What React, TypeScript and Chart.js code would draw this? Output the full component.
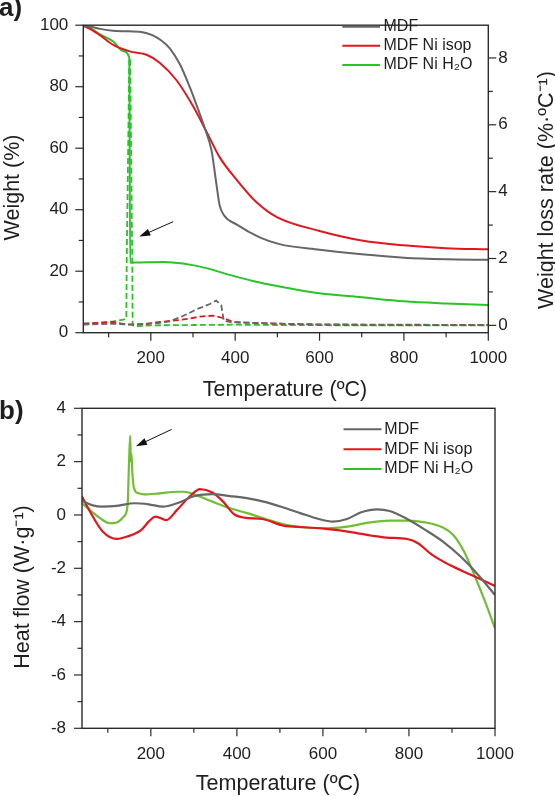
import React, { useEffect, useRef } from "react";
import { Chart, registerables } from "chart.js";

Chart.register(...registerables);

const FONT = "'Liberation Sans', Arial, Helvetica, sans-serif";
const AXIS = "#2a2a2a";
const TEXT = "#1e1e1e";

// ---------- Panel a) TGA ----------
const xMajor = [200, 400, 600, 800, 1000];
const xMinor = [100, 300, 500, 700, 900];
const weightMajor = [0, 20, 40, 60, 80, 100];
const weightMinor = [10, 30, 50, 70, 90];
const rateMajor = [0, 2, 4, 6, 8];
const rateMinor = [1, 3, 5, 7];

const seriesNames = ["MDF", "MDF Ni isop", "MDF Ni H₂O"];

const mdfWT = [40, 60, 80, 111, 150, 174, 205, 225, 245, 269, 292, 312, 328, 344, 355, 363, 373, 403, 458, 505, 600, 700, 800, 900, 1000];
const mdfW = [99.8, 99.4, 98.8, 98.2, 98.0, 97.9, 96.7, 95.0, 92.5, 87.3, 80.0, 72.7, 66.5, 59.2, 48.8, 41.5, 38.3, 35.2, 31.0, 28.8, 27.0, 25.5, 24.4, 23.9, 23.7];

const isopWT = [40, 60, 80, 111, 150, 190, 221, 261, 300, 332, 363, 403, 450, 500, 600, 700, 800, 900, 1000];
const isopW = [99.8, 98.5, 96.7, 93.6, 91.5, 90.4, 87.8, 82.1, 73.7, 65.4, 57.1, 49.8, 42.5, 37.5, 33.1, 30.0, 28.4, 27.5, 27.1];

const h2oWT = [40, 60, 80, 111, 135, 149, 151, 158, 190, 229, 276, 332, 387, 442, 505, 600, 700, 800, 900, 1000];
const h2oW = [99.8, 98.8, 97.0, 94.7, 91.5, 89.4, 22.8, 22.8, 22.9, 23.0, 22.5, 21.0, 18.8, 16.8, 15.0, 12.8, 11.5, 10.2, 9.5, 9.0];

const mdfRT = [40, 80, 111, 150, 180, 218, 245, 269, 290, 308, 325, 340, 355, 367, 373, 390, 420, 500, 600, 800, 1000];
const mdfR = [0.02, 0.04, 0.05, 0.02, 0.04, 0.07, 0.12, 0.24, 0.36, 0.48, 0.56, 0.64, 0.74, 0.6, 0.14, 0.1, 0.08, 0.05, 0.03, 0.02, 0.01];

const isopRT = [40, 80, 111, 135, 160, 190, 221, 245, 269, 290, 316, 347, 371, 395, 450, 500, 600, 800, 1000];
const isopR = [0.05, 0.08, 0.1, 0.04, 0.02, 0.04, 0.1, 0.13, 0.16, 0.2, 0.26, 0.29, 0.22, 0.1, 0.07, 0.05, 0.02, 0.01, 0.01];

const h2oRT = [40, 80, 111, 135, 142, 143, 149, 151, 156, 157, 165, 200, 300, 400, 500, 700, 1000];
const h2oR = [0.05, 0.08, 0.12, 0.17, 0.2, 2.0, 7.9, 8.0, 2.0, 0.0, -0.03, 0.0, 0.01, 0.02, 0.01, 0.0, 0.0];

const arrowA = { fromT: 253, fromV: 36.1, toT: 172.7, toV: 31.25 };

// ---------- Panel b) DSC ----------
const heatMajor = [-8, -6, -4, -2, 0, 2, 4];
const heatMinor = [-7, -5, -3, -1, 1, 3];

const mdfHT = [40, 63, 88, 121, 162, 195, 228, 261, 302, 343, 384, 426, 467, 508, 549, 590, 623, 656, 689, 726, 755, 796, 838, 879, 920, 961, 1000];
const mdfH = [0.53, 0.37, 0.31, 0.34, 0.44, 0.40, 0.31, 0.44, 0.71, 0.78, 0.71, 0.62, 0.48, 0.28, 0.06, -0.15, -0.25, -0.15, 0.10, 0.21, 0.15, -0.15, -0.56, -1.0, -1.56, -2.25, -3.0];

const isopHT = [40, 63, 88, 121, 145, 178, 195, 211, 236, 261, 294, 314, 343, 368, 393, 417, 459, 508, 557, 607, 673, 714, 747, 796, 821, 854, 895, 945, 1000];
const isopH = [0.69, 0.0, -0.62, -0.9, -0.81, -0.56, -0.25, -0.06, -0.19, 0.19, 0.75, 0.97, 0.84, 0.5, 0.03, -0.1, -0.15, -0.4, -0.46, -0.52, -0.66, -0.78, -0.85, -0.9, -1.06, -1.5, -1.88, -2.25, -2.66];

const h2oHT = [40, 63, 88, 104, 121, 137, 146, 149, 152, 153.5, 155, 157, 161, 170, 185, 220, 261, 277, 310, 343, 384, 426, 467, 508, 557, 607, 656, 706, 755, 796, 838, 879, 903, 928, 952, 977, 1000];
const h2oH = [0.44, 0.12, -0.19, -0.31, -0.28, -0.06, 0.37, 1.8, 2.98, 2.0, 2.3, 1.6, 1.0, 0.82, 0.77, 0.81, 0.87, 0.87, 0.71, 0.5, 0.25, 0.06, -0.15, -0.35, -0.47, -0.5, -0.44, -0.29, -0.21, -0.21, -0.28, -0.47, -0.75, -1.37, -2.25, -3.25, -4.25];

const arrowB = { fromT: 248.5, fromV: 3.21, toT: 165.5, toV: 2.58 };

// colours
const GRAY = "#666666";
const RED = "#e3161d";
const GREEN = "#28c428";
const GREEN_B = "#70be34";

const pts = (xs: number[], ys: number[]) => xs.map((x, i) => ({ x, y: ys[i] }));

type Txt = { text: string; x: number; y: number; rot?: boolean; font: string; align?: CanvasTextAlign };
type DecorCfg = {
  yMajor: number[];
  yMinor: number[];
  y2Major?: number[];
  y2Minor?: number[];
  legendColors: string[];
  legendX: [number, number, number];
  legendY: number[];
  arrow: { fromT: number; fromV: number; toT: number; toV: number };
  texts: Txt[];
};

function makeDecor(cfg: DecorCfg) {
  return {
    id: "decor",
    afterDraw(chart: any) {
      const ctx: CanvasRenderingContext2D = chart.ctx;
      const { left, right, top, bottom } = chart.chartArea;
      const xs = chart.scales.x;
      const ys = chart.scales.y;
      const y2 = chart.scales.y2;
      ctx.save();
      ctx.strokeStyle = AXIS;
      ctx.lineWidth = 1.4;
      ctx.strokeRect(left, top, right - left, bottom - top);
      ctx.lineWidth = 1.2;
      const line = (x1: number, y1: number, x2: number, y2p: number) => {
        ctx.beginPath();
        ctx.moveTo(x1, y1);
        ctx.lineTo(x2, y2p);
        ctx.stroke();
      };
      xMajor.forEach((v) => { const p = xs.getPixelForValue(v); line(p, bottom, p, bottom + 8); });
      xMinor.forEach((v) => { const p = xs.getPixelForValue(v); line(p, bottom, p, bottom + 4.5); });
      cfg.yMajor.forEach((v) => { const p = ys.getPixelForValue(v); line(left, p, left - 8, p); });
      cfg.yMinor.forEach((v) => { const p = ys.getPixelForValue(v); line(left, p, left - 4.5, p); });
      if (y2 && cfg.y2Major) {
        cfg.y2Major.forEach((v) => { const p = y2.getPixelForValue(v); line(right, p, right + 8, p); });
        (cfg.y2Minor || []).forEach((v) => { const p = y2.getPixelForValue(v); line(right, p, right + 4.5, p); });
      }
      // arrow
      const a = cfg.arrow;
      const fx = xs.getPixelForValue(a.fromT), fy = ys.getPixelForValue(a.fromV);
      const tx = xs.getPixelForValue(a.toT), ty = ys.getPixelForValue(a.toV);
      const ang = Math.atan2(ty - fy, tx - fx);
      ctx.strokeStyle = "#111";
      ctx.fillStyle = "#111";
      ctx.lineWidth = 1;
      line(fx, fy, tx - Math.cos(ang) * 6, ty - Math.sin(ang) * 6);
      ctx.beginPath();
      ctx.moveTo(tx, ty);
      ctx.lineTo(tx - Math.cos(ang) * 11 + Math.sin(ang) * 3.5, ty - Math.sin(ang) * 11 - Math.cos(ang) * 3.5);
      ctx.lineTo(tx - Math.cos(ang) * 11 - Math.sin(ang) * 3.5, ty - Math.sin(ang) * 11 + Math.cos(ang) * 3.5);
      ctx.closePath();
      ctx.fill();
      // legend
      ctx.font = `16px ${FONT}`;
      ctx.textBaseline = "middle";
      ctx.textAlign = "left";
      seriesNames.forEach((name, i) => {
        const yy = cfg.legendY[i];
        ctx.strokeStyle = cfg.legendColors[i];
        ctx.lineWidth = 2;
        line(cfg.legendX[0], yy, cfg.legendX[1], yy);
        ctx.fillStyle = TEXT;
        ctx.fillText(name, cfg.legendX[2], yy);
      });
      // titles and panel labels
      ctx.fillStyle = TEXT;
      cfg.texts.forEach((t) => {
        ctx.save();
        ctx.font = t.font;
        ctx.textAlign = t.align || "center";
        ctx.textBaseline = "alphabetic";
        ctx.translate(t.x, t.y);
        if (t.rot) ctx.rotate(-Math.PI / 2);
        ctx.fillText(t.text, 0, 0);
        ctx.restore();
      });
      ctx.restore();
    },
  };
}

const setTicks = (vals: number[]) => (s: any) => {
  s.ticks = vals.map((v) => ({ value: v }));
};

const TITLE_FONT = `21.5px ${FONT}`;
const PANEL_FONT = `bold 26px ${FONT}`;
const X_AXIS_H = 50;

const axisBase = () => ({
  grid: { display: false, drawTicks: false },
  border: { display: false },
});
const tickOpts = (padding: number) => ({
  font: { family: FONT, size: 17 },
  color: TEXT,
  padding,
  autoSkip: false,
  maxRotation: 0,
  minRotation: 0,
  callback: (v: any) => String(v),
});

function buildTop(canvas: HTMLCanvasElement) {
  const solid = (label: string, xs: number[], ysv: number[], color: string) => ({
    label, data: pts(xs, ysv), borderColor: color, backgroundColor: color, borderWidth: 2,
    pointRadius: 0, cubicInterpolationMode: "monotone" as const, yAxisID: "y",
  });
  const dashed = (label: string, xs: number[], ysv: number[], color: string) => ({
    label, data: pts(xs, ysv), borderColor: color, backgroundColor: color, borderWidth: 1.8,
    borderDash: [6, 3], pointRadius: 0, tension: 0, yAxisID: "y2",
  });
  return new Chart(canvas, {
    type: "line",
    data: {
      datasets: [
        solid("MDF", mdfWT, mdfW, GRAY),
        solid("MDF Ni isop", isopWT, isopW, RED),
        solid("MDF Ni H₂O", h2oWT, h2oW, GREEN),
        dashed("MDF rate", mdfRT, mdfR, GRAY),
        dashed("MDF Ni isop rate", isopRT, isopR, RED),
        dashed("MDF Ni H₂O rate", h2oRT, h2oR, GREEN),
      ],
    },
    options: {
      responsive: false,
      animation: false,
      events: [],
      layout: { padding: { top: 12.7, bottom: 796 - 332.7 - X_AXIS_H, left: 0, right: 0 } },
      plugins: { legend: { display: false }, tooltip: { enabled: false } },
      scales: {
        x: {
          type: "linear", position: "bottom", min: 40, max: 1000, ...axisBase(),
          ticks: tickOpts(15),
          afterBuildTicks: setTicks(xMajor),
          afterFit: (s: any) => { s.height = X_AXIS_H; },
        },
        y: {
          type: "linear", position: "left", min: 0, max: 100, ...axisBase(),
          ticks: tickOpts(15),
          afterBuildTicks: setTicks(weightMajor),
          afterFit: (s: any) => { s.width = 83.3; },
        },
        y2: {
          type: "linear", position: "right", min: -0.22, max: 8.98, ...axisBase(),
          ticks: tickOpts(10),
          afterBuildTicks: setTicks(rateMajor),
          afterFit: (s: any) => { s.width = 555 - 488.3; },
        },
      },
    } as any,
    plugins: [
      makeDecor({
        yMajor: weightMajor, yMinor: weightMinor, y2Major: rateMajor, y2Minor: rateMinor,
        legendColors: [GRAY, RED, GREEN],
        legendX: [342.3, 380, 383.5],
        legendY: [26.7, 45.7, 65],
        arrow: arrowA,
        texts: [
          { text: "a)", x: -1, y: 16, font: PANEL_FONT, align: "left" },
          { text: "Weight (%)", x: 19, y: 187.5, rot: true, font: TITLE_FONT },
          { text: "Weight loss rate (%·ºC⁻¹)", x: 553, y: 190, rot: true, font: TITLE_FONT },
          { text: "Temperature (ºC)", x: 285, y: 396, font: TITLE_FONT },
        ],
      }),
    ],
  });
}

function buildBottom(canvas: HTMLCanvasElement) {
  const solid = (label: string, xs: number[], ysv: number[], color: string) => ({
    label, data: pts(xs, ysv), borderColor: color, backgroundColor: color, borderWidth: 2.2,
    pointRadius: 0, cubicInterpolationMode: "monotone" as const,
  });
  return new Chart(canvas, {
    type: "line",
    data: {
      datasets: [
        solid("MDF", mdfHT, mdfH, GRAY),
        solid("MDF Ni isop", isopHT, isopH, RED),
        solid("MDF Ni H₂O", h2oHT, h2oH, GREEN_B),
      ],
    },
    options: {
      responsive: false,
      animation: false,
      events: [],
      layout: { padding: { top: 408.3, bottom: 796 - 728.3 - X_AXIS_H, left: 0, right: 555 - 495 } },
      plugins: { legend: { display: false }, tooltip: { enabled: false } },
      scales: {
        x: {
          type: "linear", position: "bottom", min: 40, max: 1000, ...axisBase(),
          ticks: tickOpts(15.5),
          afterBuildTicks: setTicks(xMajor),
          afterFit: (s: any) => { s.height = X_AXIS_H; },
        },
        y: {
          type: "linear", position: "left", min: -8, max: 4, ...axisBase(),
          ticks: tickOpts(16),
          afterBuildTicks: setTicks(heatMajor),
          afterFit: (s: any) => { s.width = 82; },
        },
      },
    } as any,
    plugins: [
      makeDecor({
        yMajor: heatMajor, yMinor: heatMinor,
        legendColors: [GRAY, RED, GREEN],
        legendX: [343.5, 381.5, 384.3],
        legendY: [429.3, 449.3, 469],
        arrow: arrowB,
        texts: [
          { text: "b)", x: -1, y: 418.5, font: PANEL_FONT, align: "left" },
          { text: "Heat flow (W·g⁻¹)", x: 29, y: 587, rot: true, font: TITLE_FONT },
          { text: "Temperature (ºC)", x: 278, y: 790, font: TITLE_FONT },
        ],
      }),
    ],
  });
}

export default function App() {
  const topRef = useRef<HTMLCanvasElement>(null);
  const botRef = useRef<HTMLCanvasElement>(null);
  useEffect(() => {
    Chart.defaults.font.family = FONT;
    Chart.defaults.font.size = 17;
    const a = buildTop(topRef.current!);
    const b = buildBottom(botRef.current!);
    return () => {
      a.destroy();
      b.destroy();
    };
  }, []);
  const cs: React.CSSProperties = { position: "absolute", left: 0, top: 0, width: 555, height: 796 };
  return (
    <div style={{ position: "absolute", left: 0, top: 0, width: 555, height: 796, background: "#fff", overflow: "hidden" }}>
      <canvas ref={topRef} width={555} height={796} style={cs} />
      <canvas ref={botRef} width={555} height={796} style={cs} />
    </div>
  );
}
